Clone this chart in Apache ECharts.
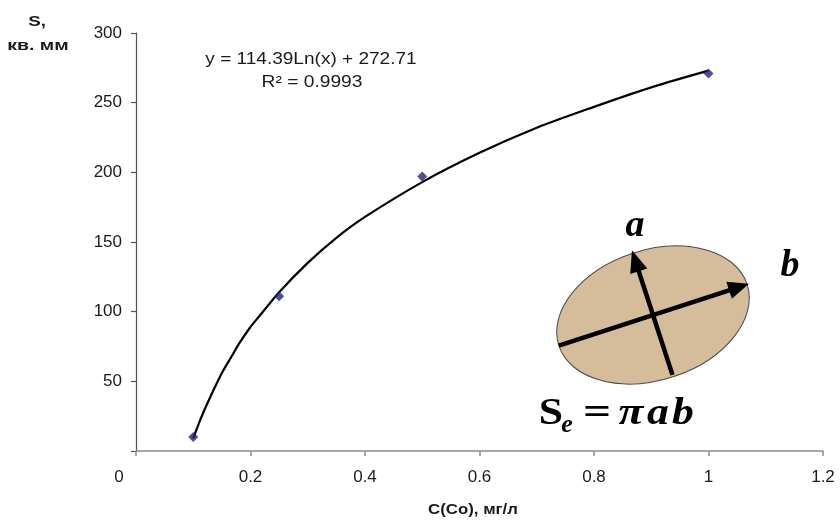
<!DOCTYPE html>
<html>
<head>
<meta charset="utf-8">
<script src="https://cdn.jsdelivr.net/npm/echarts@6/dist/echarts.min.js"></script>
<style>html,body{margin:0;padding:0;background:#fff}#c{width:840px;height:520px}</style>
</head>
<body>
<div id="c"></div>
<script>
// Measured points
const concX = [0.1, 0.25, 0.5, 1.0];
const areaY = [10, 111, 197, 271];
// Trend line (logarithmic fit)
const trendX = [0.1, 0.11, 0.12, 0.13, 0.15, 0.17, 0.18, 0.2, 0.22, 0.25, 0.3, 0.35, 0.4, 0.5, 0.6, 0.7, 0.8, 0.9, 1.0];
const trendY = [9, 20, 30, 39, 56, 70, 77, 89, 99, 114, 135, 153, 168, 193, 214, 232, 247, 261, 273];
const xTicks = [0, 0.2, 0.4, 0.6, 0.8, 1, 1.2];
const yTicks = [0, 50, 100, 150, 200, 250, 300];
const eqText = 'y = 114.39Ln(x) + 272.71';
const r2Text = 'R² = 0.9993';
const xTitle = 'C(Co), мг/л';
const yTitle1 = 'S,';
const yTitle2 = 'кв. мм';

const chart = echarts.init(document.getElementById('c'), null, {renderer: 'canvas'});
const sans = 'Liberation Sans, Arial, sans-serif';
const serif = 'Liberation Serif, Times New Roman, serif';
const rot = 18 * Math.PI / 180;
const ink = '#1a1a1a';

function serifText(t, x, y, size, italic, align) {
  return {type: 'text', x: x, y: y, style: {text: t, fontFamily: serif, fontSize: size, fontWeight: 'bold',
    fontStyle: italic ? 'italic' : 'normal', fill: '#000', align: align || 'center', verticalAlign: 'bottom'}};
}

chart.setOption({
  animation: false,
  backgroundColor: '#fff',
  grid: {left: 136, right: 17, top: 33, bottom: 69, containLabel: false},
  xAxis: {
    type: 'value', min: xTicks[0], max: xTicks[xTicks.length - 1], interval: 0.2,
    splitLine: {show: false},
    axisLine: {lineStyle: {color: '#8c8c8c', width: 1.5}},
    axisTick: {show: true, inside: false, length: 5, lineStyle: {color: '#8c8c8c', width: 1.5}},
    axisLabel: {
      margin: 18, fontFamily: sans, fontSize: 17, color: ink,
      formatter: v => v === 0 ? '{z|0}' : String(+v.toFixed(1)),
      rich: {z: {padding: [0, 34, 0, 0], fontFamily: sans, fontSize: 17, color: ink}}
    }
  },
  yAxis: {
    type: 'value', min: yTicks[0], max: yTicks[yTicks.length - 1], interval: 50,
    splitLine: {show: false},
    axisLine: {show: true, lineStyle: {color: '#555', width: 1.2}},
    axisTick: {show: true, inside: false, length: 5, lineStyle: {color: '#555', width: 1.2}},
    axisLabel: {margin: 14, fontFamily: sans, fontSize: 17, color: ink,
      formatter: v => v === 0 ? '' : String(v)}
  },
  series: [
    {
      type: 'line', data: trendX.map((x, i) => [x, trendY[i]]),
      smooth: 0.3, showSymbol: false, symbol: 'none',
      lineStyle: {color: '#000', width: 2.2}, z: 2, silent: true
    },
    {
      type: 'scatter', data: concX.map((x, i) => [x, areaY[i]]),
      symbol: 'diamond', symbolSize: 10,
      itemStyle: {color: '#26237a'}, z: 3
    }
  ],
  graphic: [
    {type: 'text', x: 37, y: 22, scaleX: 1.25, style: {text: yTitle1, fontFamily: sans, fontSize: 15, fontWeight: 'bold', fill: ink, align: 'center', verticalAlign: 'middle'}},
    {type: 'text', x: 38, y: 46, scaleX: 1.3, style: {text: yTitle2, fontFamily: sans, fontSize: 15, fontWeight: 'bold', fill: ink, align: 'center', verticalAlign: 'middle'}},
    {type: 'text', x: 473, y: 510, scaleX: 1.2, style: {text: xTitle, fontFamily: sans, fontSize: 14, fontWeight: 'bold', fill: ink, align: 'center', verticalAlign: 'middle'}},
    {type: 'text', x: 311, y: 60, scaleX: 1.19, style: {text: eqText, fontFamily: sans, fontSize: 16, fill: ink, align: 'center', verticalAlign: 'middle'}},
    {type: 'text', x: 312, y: 83, scaleX: 1.2, style: {text: r2Text, fontFamily: sans, fontSize: 16, fill: ink, align: 'center', verticalAlign: 'middle'}},
    {
      type: 'group', x: 653, y: 315, rotation: rot,
      children: [
        {type: 'ellipse', shape: {cx: 0, cy: 0, rx: 99, ry: 65},
          style: {fill: '#d5bc9a', stroke: '#4a4a4a', lineWidth: 1}},
        {type: 'line', shape: {x1: -99, y1: 0, x2: 84, y2: 0}, style: {stroke: '#000', lineWidth: 4.5}},
        {type: 'polygon', shape: {points: [[101, 0], [80, -9], [80, 9]]}, style: {fill: '#000'}},
        {type: 'line', shape: {x1: 0, y1: 63, x2: 0, y2: -50}, style: {stroke: '#000', lineWidth: 4.5}},
        {type: 'polygon', shape: {points: [[0, -68], [-9, -46], [9, -46]]}, style: {fill: '#000'}}
      ]
    },
    {type: 'text', x: 635, y: 226, style: {text: 'a', fontFamily: serif, fontSize: 38, fontWeight: 'bold', fontStyle: 'italic', fill: '#000', align: 'center', verticalAlign: 'middle'}},
    {type: 'text', x: 790, y: 266, style: {text: 'b', fontFamily: serif, fontSize: 38, fontWeight: 'bold', fontStyle: 'italic', fill: '#000', align: 'center', verticalAlign: 'middle'}},
    Object.assign(serifText('S', 551, 433, 38, false), {scaleX: 1.15}),
    serifText('e', 567, 438, 26, true),
    Object.assign(serifText('=', 597, 433, 38, false), {scaleX: 1.3}),
    Object.assign(serifText('π', 631, 433, 38, true), {scaleX: 1.2}),
    Object.assign(serifText('a', 658, 433, 38, true), {scaleX: 1.15}),
    Object.assign(serifText('b', 683, 433, 38, true), {scaleX: 1.15})
  ]
});
</script>
</body>
</html>
